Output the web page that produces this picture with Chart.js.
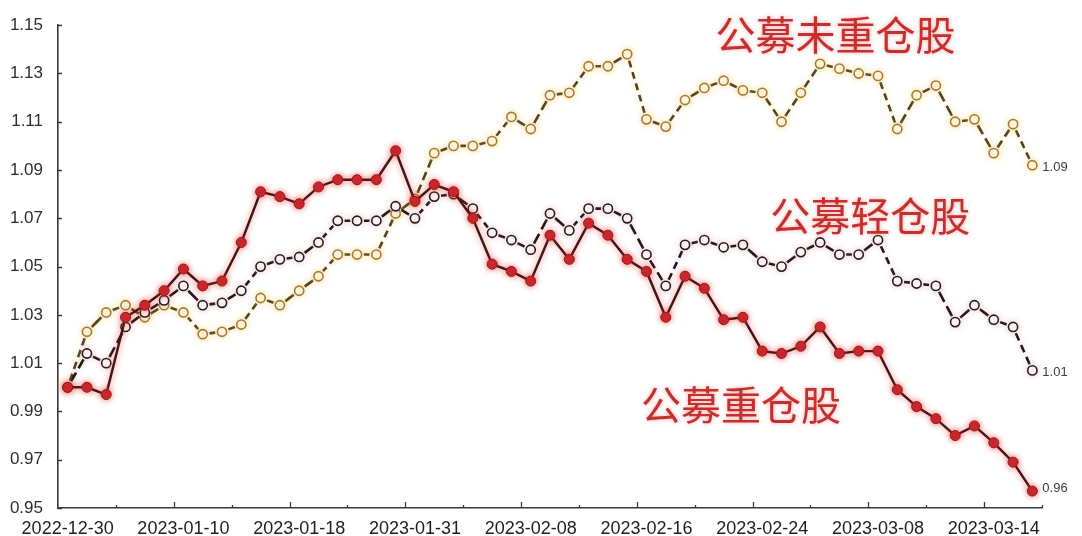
<!DOCTYPE html>
<html lang="zh-CN">
<head>
<meta charset="utf-8">
<title>公募重仓股 / 轻仓股 / 未重仓股 净值走势</title>
<script src="https://cdn.jsdelivr.net/npm/chart.js@4.4.0/dist/chart.umd.min.js"></script>
<style>
  html, body { margin: 0; padding: 0; background: #fff; }
  #wrap { position: relative; width: 1082px; height: 536px; }
</style>
</head>
<body>
<div id="wrap"><canvas id="nav-chart"></canvas></div>
<script>
// 净值走势（2022-12-30 = 1），共 51 个交易日，每 6 个交易日标一个日期
const tickLabels = ['2022-12-30', '2023-01-10', '2023-01-18', '2023-01-31', '2023-02-08',
  '2023-02-16', '2023-02-24', '2023-03-08', '2023-03-14'];
const labelEvery = 6;

// 公募重仓股
const heavy = [1.000, 1.000, 0.997, 1.029, 1.034, 1.040, 1.049, 1.042, 1.044, 1.060,
  1.081, 1.079, 1.076, 1.083, 1.086, 1.086, 1.086, 1.098, 1.077, 1.084,
  1.081, 1.070, 1.051, 1.048, 1.044, 1.063, 1.053, 1.068, 1.063, 1.053,
  1.048, 1.029, 1.046, 1.041, 1.028, 1.029, 1.015, 1.014, 1.017, 1.025,
  1.014, 1.015, 1.015, 0.999, 0.992, 0.987, 0.980, 0.984, 0.977, 0.969,
  0.957];

// 公募轻仓股
const light = [1.000, 1.014, 1.010, 1.025, 1.031, 1.036, 1.042, 1.034, 1.035, 1.040,
  1.050, 1.053, 1.054, 1.060, 1.069, 1.069, 1.069, 1.075, 1.070, 1.079,
  1.080, 1.074, 1.064, 1.061, 1.057, 1.072, 1.065, 1.074, 1.074, 1.070,
  1.055, 1.042, 1.059, 1.061, 1.058, 1.059, 1.052, 1.050, 1.056, 1.060,
  1.055, 1.055, 1.061, 1.044, 1.043, 1.042, 1.027, 1.034, 1.028, 1.025,
  1.007];

// 公募未重仓股
const notHeld = [1.000, 1.023, 1.031, 1.034, 1.029, 1.034, 1.031, 1.022, 1.023, 1.026,
  1.037, 1.034, 1.040, 1.046, 1.055, 1.055, 1.055, 1.072, 1.078, 1.097,
  1.100, 1.100, 1.102, 1.112, 1.107, 1.121, 1.122, 1.133, 1.133, 1.138,
  1.111, 1.108, 1.119, 1.124, 1.127, 1.123, 1.122, 1.110, 1.122, 1.134,
  1.132, 1.130, 1.129, 1.107, 1.121, 1.125, 1.110, 1.111, 1.097, 1.109,
  1.092];

const yMin = 0.95, yMax = 1.15, yStep = 0.02;

// 红字标注，位置用 [交易日序号, 净值]
const notes = [
  { text: '公募未重仓股', at: [39.8, 1.146] },
  { text: '公募轻仓股', at: [41.6, 1.0712] },
  { text: '公募重仓股', at: [34.9, 0.9927] }
];

const labels = heavy.map((_, i) => i % labelEvery === 0 ? tickLabels[i / labelEvery] : '');

// 虚线：每段两端留空，中间按段长切成若干短划
function dashedSegment(radius) {
  return ctx => {
    const len = Math.hypot(ctx.p1.x - ctx.p0.x, ctx.p1.y - ctx.p0.y);
    const gap = radius + 2.2;
    const inner = len - 2 * gap;
    if (inner <= 1) return [0, len + 100];
    const space = 5;
    const n = Math.max(1, Math.round((inner + space) / 13));
    const d = (inner - (n - 1) * space) / n;
    const dash = [0, gap];
    for (let k = 0; k < n; k++) {
      dash.push(d);
      dash.push(k < n - 1 ? space : len + 100);
    }
    return dash;
  };
}

// 光晕、向内刻度、末端数值、红字标注
const decorPlugin = {
  id: 'decor',
  beforeDatasetDraw(chart, args) {
    const ctx = chart.ctx;
    const glow = chart.data.datasets[args.index].glow;
    ctx.save();
    if (glow) {
      ctx.shadowColor = glow;
      ctx.shadowBlur = 6;
    }
  },
  afterDatasetDraw(chart) {
    chart.ctx.restore();
  },
  afterDraw(chart) {
    const { ctx, scales: { x, y }, chartArea } = chart;
    ctx.save();

    // 坐标轴刻度朝内
    ctx.strokeStyle = '#3a3a3a';
    ctx.lineWidth = 1.3;
    ctx.beginPath();
    for (let v = yMin; v <= yMax + 1e-9; v += yStep) {
      const py = Math.round(y.getPixelForValue(v)) + 0.5;
      ctx.moveTo(chartArea.left, py);
      ctx.lineTo(chartArea.left + 4, py);
    }
    for (let i = 2.5; i < heavy.length; i += 3) {
      const px = Math.round(x.getPixelForValue(i)) + 0.5;
      const major = (i - 2.5) % 6 === 3;
      ctx.moveTo(px, chartArea.bottom);
      ctx.lineTo(px, chartArea.bottom - (major ? 6 : 3));
    }
    ctx.stroke();

    // 末端数值
    ctx.font = '13px "Liberation Sans", Arial, sans-serif';
    ctx.fillStyle = '#3c3c3c';
    ctx.textAlign = 'left';
    ctx.textBaseline = 'middle';
    chart.data.datasets.forEach((ds, di) => {
      const meta = chart.getDatasetMeta(di);
      const last = meta.data[meta.data.length - 1];
      const val = ds.data[ds.data.length - 1];
      ctx.fillText(val.toFixed(2), last.x + 10, last.y + (di === 0 ? -3 : 2));
    });

    // 红字标注
    ctx.font = '40px "Noto Sans CJK SC", sans-serif';
    ctx.textAlign = 'center';
    ctx.fillStyle = '#c4302e';
    ctx.shadowColor = 'rgba(240, 130, 130, 0.7)';
    ctx.shadowBlur = 4;
    notes.forEach(n => {
      ctx.fillText(n.text, x.getPixelForValue(n.at[0]), y.getPixelForValue(n.at[1]));
    });
    ctx.restore();
  }
};

function initializeNavChart(canvasId) {
  const canvas = document.getElementById(canvasId);
  if (!canvas) return;

  Chart.defaults.font.family = '"Liberation Sans", Arial, sans-serif';

  const chart = new Chart(canvas.getContext('2d'), {
    type: 'line',
    data: {
      labels: labels,
      datasets: [
        {
          label: '公募重仓股',
          data: heavy,
          borderColor: '#451513',
          borderWidth: 2.4,
          pointRadius: 5,
          pointBackgroundColor: '#c8262c',
          pointBorderColor: '#8e1b1d',
          pointBorderWidth: 1,
          glow: 'rgba(230, 50, 50, 0.65)',
          tension: 0
        },
        {
          label: '公募轻仓股',
          data: light,
          borderColor: '#241818',
          borderWidth: 2.6,
          pointRadius: 4.6,
          pointBackgroundColor: '#ffffff',
          pointBorderColor: '#2a1c1c',
          pointBorderWidth: 1.6,
          glow: 'rgba(220, 140, 150, 0.45)',
          segment: {
            borderDash: dashedSegment(4.6),
            borderDashOffset: ctx => (ctx.p0DataIndex % 2) * 0.01
          },
          tension: 0
        },
        {
          label: '公募未重仓股',
          data: notHeld,
          borderColor: '#54421d',
          borderWidth: 2.6,
          pointRadius: 4.6,
          pointBackgroundColor: '#fffaf0',
          pointBorderColor: '#a87a2c',
          pointBorderWidth: 1.6,
          glow: 'rgba(240, 200, 100, 0.6)',
          segment: {
            borderDash: dashedSegment(4.6),
            borderDashOffset: ctx => (ctx.p0DataIndex % 2) * 0.01
          },
          tension: 0
        }
      ]
    },
    options: {
      responsive: true,
      maintainAspectRatio: false,
      animation: false,
      layout: {
        padding: { top: 21, right: 40, left: 0, bottom: 0 }
      },
      plugins: {
        legend: { display: false },
        tooltip: { enabled: false }
      },
      scales: {
        x: {
          type: 'category',
          offset: true,
          border: { color: '#3a3a3a', width: 1.6 },
          grid: { display: true, drawOnChartArea: false, drawTicks: false, color: 'rgba(0,0,0,0)' },
          ticks: {
            autoSkip: false,
            maxRotation: 0,
            padding: 10,
            color: '#1e1e1e',
            font: { size: 18 }
          },
          afterFit(scale) { scale.height = 28; }
        },
        y: {
          min: yMin,
          max: yMax,
          border: { color: '#3a3a3a', width: 1.6 },
          grid: { display: true, drawOnChartArea: false, drawTicks: false, color: 'rgba(0,0,0,0)' },
          ticks: {
            stepSize: yStep,
            padding: 15,
            color: '#2e2e2e',
            font: { size: 17 },
            callback: v => v.toFixed(2)
          },
          afterFit(scale) { scale.width = 58; }
        }
      }
    },
    plugins: [decorPlugin]
  });

  canvas.chart = chart;
  return chart;
}

initializeNavChart('nav-chart');
</script>
</body>
</html>
